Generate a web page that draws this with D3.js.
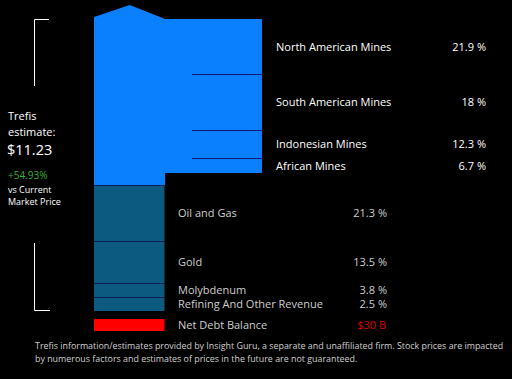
<!DOCTYPE html>
<html>
<head>
<meta charset="utf-8">
<script src="https://cdn.jsdelivr.net/npm/d3@7"></script>
<style>
  html, body { margin: 0; padding: 0; background: #000; }
  svg { display: block; }
  text { font-family: "Open Sans", "DejaVu Sans", sans-serif; }
</style>
</head>
<body>
<script>
// ---------- data ----------
const upperNames = ["North American Mines", "South American Mines", "Indonesian Mines", "African Mines"];
const upperPct = ["21.9 %", "18 %", "12.3 %", "6.7 %"];
const upperSizes = [55, 56, 28, 15];          // displayed block sizes

const lowerNames = ["Oil and Gas", "Gold", "Molybdenum", "Refining And Other Revenue"];
const lowerPct = ["21.3 %", "13.5 %", "3.8 %", "2.5 %"];
const lowerSizes = [56, 42, 14, 14];

const debtName = "Net Debt Balance";
const debtLabel = "$30 B";
const debtSize = 12;

const estimateLines = ["Trefis", "estimate:"];
const priceLabel = "$11.23";
const changeLabel = "+54.93%";
const vsLines = ["vs Current", "Market Price"];
const footnote = [
  "Trefis information/estimates provided by Insight Guru, a separate and unaffiliated firm. Stock prices are impacted",
  "by numerous factors and estimates of prices in the future are not guaranteed."
];

// ---------- layout ----------
const W = 512, H = 379;
const svg = d3.select("body").append("svg").attr("width", W).attr("height", H);

const blueGap = 12, debtGap = 8, roof = 14;
const lowerTotal = d3.sum(lowerSizes);
const upperTotal = d3.sum(upperSizes);
const topVal = lowerTotal + blueGap + upperTotal;

// value scale: 0 at bottom of the lower stack
const y = d3.scaleLinear().domain([0, topVal]).range([311, 19]);
const colL = 94, colR = 164.5, wideR = 262, lineL = 192;

// lower stack (top to bottom)
let acc = lowerTotal;
const lower = lowerNames.map((n, i) => {
  const top = acc; acc -= lowerSizes[i];
  return { name: n, pct: lowerPct[i], top, bot: acc };
});
acc = topVal;
const upper = upperNames.map((n, i) => {
  const top = acc; acc -= upperSizes[i];
  return { name: n, pct: upperPct[i], top, bot: acc };
});

// blue shape
const bBot = y(lowerTotal + blueGap);
const path = d3.path();
path.moveTo(colL, y(topVal) - 2);
path.lineTo((colL + colR) / 2 + 0.5, y(topVal + roof));
path.lineTo(colR + 0.5, y(topVal));
path.lineTo(wideR, y(topVal));
path.lineTo(wideR, bBot);
path.lineTo(colR + 0.5, bBot);
path.lineTo(colR + 0.5, y(lowerTotal));
path.lineTo(colL, y(lowerTotal));
path.closePath();
svg.append("path").attr("d", path.toString()).attr("fill", "#0a80ff");

// blue dividers
svg.selectAll("line.ud").data(upper.slice(1)).join("line")
  .attr("x1", lineL).attr("x2", wideR)
  .attr("y1", d => Math.round(y(d.top)) + 0.5).attr("y2", d => Math.round(y(d.top)) + 0.5)
  .attr("stroke", "#10177a").attr("stroke-width", 1);

// teal blocks
svg.selectAll("rect.low").data(lower).join("rect")
  .attr("x", colL).attr("width", colR - colL)
  .attr("y", d => y(d.top)).attr("height", d => y(d.bot) - y(d.top))
  .attr("fill", "#0c5a80");
svg.selectAll("line.ld").data(lower).join("line")
  .attr("x1", colL).attr("x2", colR)
  .attr("y1", d => Math.round(y(d.top)) + 0.5).attr("y2", d => Math.round(y(d.top)) + 0.5)
  .attr("stroke", "#0a1a5a").attr("stroke-width", 1);

// debt bar
const dTop = y(-debtGap), dBot = y(-debtGap - debtSize);
svg.append("rect").attr("x", colL).attr("width", colR - colL)
  .attr("y", dTop).attr("height", dBot - dTop).attr("fill", "#ff0000");

// upper labels
const uLabX = 276, uPctX = 486;
upper.forEach(d => {
  const cy = (y(d.top) + y(d.bot)) / 2 + 0.5;
  svg.append("text").attr("x", uLabX).attr("y", cy).attr("dy", "0.35em")
    .attr("fill", "#ffffff").attr("font-size", 11).text(d.name);
  svg.append("text").attr("x", uPctX).attr("y", cy).attr("dy", "0.35em")
    .attr("text-anchor", "end").attr("fill", "#ffffff").attr("font-size", 11).text(d.pct);
});

// lower labels
const lLabX = 178, lPctX = 387;
lower.forEach(d => {
  const cy = (y(d.top) + y(d.bot)) / 2 + 0.5;
  svg.append("text").attr("x", lLabX).attr("y", cy).attr("dy", "0.35em")
    .attr("fill", "#cfcfcf").attr("font-size", 11).text(d.name);
  svg.append("text").attr("x", lPctX).attr("y", cy).attr("dy", "0.35em")
    .attr("text-anchor", "end").attr("fill", "#cfcfcf").attr("font-size", 11).text(d.pct);
});
const dcy = (dTop + dBot) / 2 + 0.5;
svg.append("text").attr("x", lLabX).attr("y", dcy).attr("dy", "0.35em")
  .attr("fill", "#cfcfcf").attr("font-size", 11).text(debtName);
svg.append("text").attr("x", lPctX - 1).attr("y", dcy).attr("dy", "0.35em")
  .attr("text-anchor", "end").attr("fill", "#dd0000").attr("font-size", 11).text(debtLabel);

// brackets
const br = svg.append("g").attr("stroke", "#ffffff").attr("stroke-width", 1).attr("fill", "none");
br.append("path").attr("d", "M49,19.5 H34.5 V86");
br.append("path").attr("d", "M34.5,243 V310.5 H50");

// left estimate text
svg.append("text").attr("x", 8).attr("y", 116).attr("dy", "0.35em")
  .attr("fill", "#fff").attr("font-size", 11).text(estimateLines[0]);
svg.append("text").attr("x", 8).attr("y", 132).attr("dy", "0.35em")
  .attr("fill", "#fff").attr("font-size", 11).text(estimateLines[1]);
svg.append("text").attr("x", 7).attr("y", 150).attr("dy", "0.35em")
  .attr("fill", "#fff").attr("font-size", 14.5).text(priceLabel);
svg.append("text").attr("x", 8).attr("y", 175).attr("dy", "0.35em")
  .attr("fill", "#33b033").attr("font-size", 10).text(changeLabel);
svg.append("text").attr("x", 8).attr("y", 190).attr("dy", "0.35em")
  .attr("fill", "#fff").attr("font-size", 9).text(vsLines[0]);
svg.append("text").attr("x", 8).attr("y", 202).attr("dy", "0.35em")
  .attr("fill", "#fff").attr("font-size", 9).text(vsLines[1]);

// footnote
footnote.forEach((t, i) => {
  svg.append("text").attr("x", 35).attr("y", 346 + i * 12.5).attr("dy", "0.35em")
    .attr("fill", "#d0d0d0").attr("font-size", 8.9).text(t);
});
</script>
</body>
</html>
